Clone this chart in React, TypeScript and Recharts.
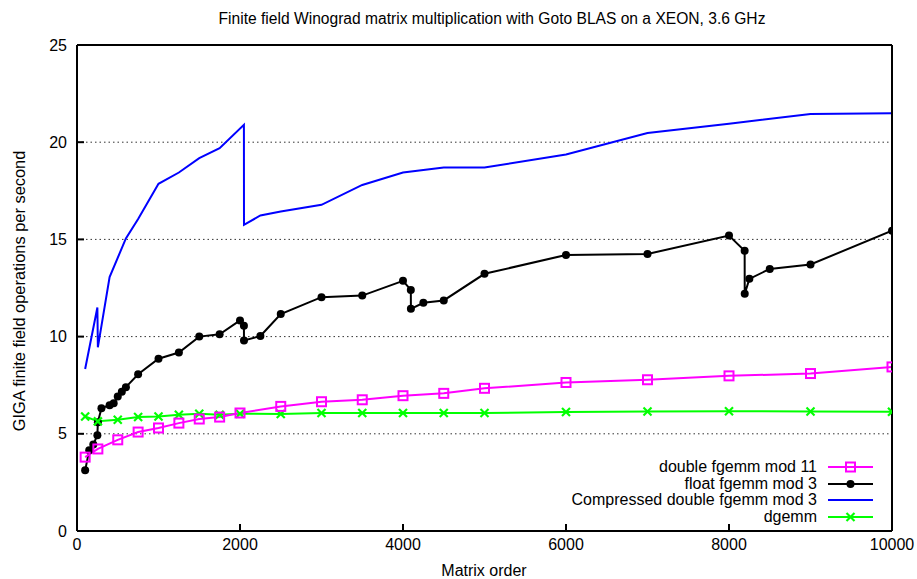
import React from 'react';
import {
  LineChart,
  Line,
  XAxis,
  YAxis,
  CartesianGrid,
} from 'recharts';

/* ------------------------------------------------------------------ */
/*  Data (GIGA finite field ops per second vs matrix order)            */
/* ------------------------------------------------------------------ */
const doubleMod11 = [
  { x: 100, y: 3.8 },
  { x: 256, y: 4.22 },
  { x: 500, y: 4.69 },
  { x: 750, y: 5.09 },
  { x: 1000, y: 5.3 },
  { x: 1250, y: 5.55 },
  { x: 1500, y: 5.76 },
  { x: 1750, y: 5.86 },
  { x: 2000, y: 6.07 },
  { x: 2500, y: 6.41 },
  { x: 3000, y: 6.65 },
  { x: 3500, y: 6.75 },
  { x: 4000, y: 6.96 },
  { x: 4500, y: 7.08 },
  { x: 5000, y: 7.34 },
  { x: 6000, y: 7.64 },
  { x: 7000, y: 7.78 },
  { x: 8000, y: 7.98 },
  { x: 9000, y: 8.1 },
  { x: 10000, y: 8.44 },
];

const floatMod3 = [
  { x: 100, y: 3.12 },
  { x: 150, y: 4.15 },
  { x: 200, y: 4.45 },
  { x: 250, y: 4.92 },
  { x: 256, y: 5.6 },
  { x: 300, y: 6.32 },
  { x: 400, y: 6.47 },
  { x: 450, y: 6.57 },
  { x: 500, y: 6.92 },
  { x: 550, y: 7.16 },
  { x: 600, y: 7.4 },
  { x: 750, y: 8.06 },
  { x: 1000, y: 8.86 },
  { x: 1250, y: 9.18 },
  { x: 1500, y: 10.0 },
  { x: 1750, y: 10.12 },
  { x: 2000, y: 10.83 },
  { x: 2048, y: 10.56 },
  { x: 2049, y: 9.8 },
  { x: 2250, y: 10.03 },
  { x: 2500, y: 11.16 },
  { x: 3000, y: 12.03 },
  { x: 3500, y: 12.11 },
  { x: 4000, y: 12.87 },
  { x: 4096, y: 12.4 },
  { x: 4097, y: 11.43 },
  { x: 4250, y: 11.74 },
  { x: 4500, y: 11.86 },
  { x: 5000, y: 13.23 },
  { x: 6000, y: 14.2 },
  { x: 7000, y: 14.25 },
  { x: 8000, y: 15.2 },
  { x: 8192, y: 14.41 },
  { x: 8193, y: 12.2 },
  { x: 8250, y: 12.97 },
  { x: 8500, y: 13.48 },
  { x: 9000, y: 13.71 },
  { x: 10000, y: 15.45 },
];

const compressedMod3 = [
  { x: 100, y: 8.33 },
  { x: 250, y: 11.5 },
  { x: 256, y: 9.45 },
  { x: 400, y: 13.06 },
  { x: 600, y: 15.05 },
  { x: 750, y: 16.05 },
  { x: 1000, y: 17.86 },
  { x: 1250, y: 18.44 },
  { x: 1500, y: 19.18 },
  { x: 1750, y: 19.69 },
  { x: 2048, y: 20.89 },
  { x: 2049, y: 15.75 },
  { x: 2250, y: 16.23 },
  { x: 2500, y: 16.43 },
  { x: 3000, y: 16.78 },
  { x: 3500, y: 17.8 },
  { x: 4000, y: 18.44 },
  { x: 4500, y: 18.7 },
  { x: 5000, y: 18.7 },
  { x: 6000, y: 19.37 },
  { x: 7000, y: 20.47 },
  { x: 8000, y: 20.95 },
  { x: 9000, y: 21.45 },
  { x: 10000, y: 21.49 },
];

const dgemm = [
  { x: 100, y: 5.89 },
  { x: 256, y: 5.64 },
  { x: 500, y: 5.72 },
  { x: 750, y: 5.86 },
  { x: 1000, y: 5.89 },
  { x: 1250, y: 5.98 },
  { x: 1500, y: 6.03 },
  { x: 1750, y: 5.98 },
  { x: 2000, y: 6.03 },
  { x: 2500, y: 6.02 },
  { x: 3000, y: 6.07 },
  { x: 3500, y: 6.07 },
  { x: 4000, y: 6.07 },
  { x: 4500, y: 6.07 },
  { x: 5000, y: 6.07 },
  { x: 6000, y: 6.12 },
  { x: 7000, y: 6.15 },
  { x: 8000, y: 6.16 },
  { x: 9000, y: 6.15 },
  { x: 10000, y: 6.13 },
];

const X_TICKS = [0, 2000, 4000, 6000, 8000, 10000];
const Y_TICKS = [0, 5, 10, 15, 20, 25];

const SERIES = [
  { name: 'double fgemm mod 11', color: '#ff00ff', marker: 'square' },
  { name: 'float fgemm mod 3', color: '#000000', marker: 'circle' },
  { name: 'Compressed double fgemm mod 3', color: '#0000ff', marker: 'none' },
  { name: 'dgemm', color: '#00ff00', marker: 'cross' },
];

const FONT = '"Liberation Sans", Arial, Helvetica, sans-serif';

/* ------------------------------------------------------------------ */
/*  Markers                                                            */
/* ------------------------------------------------------------------ */
function SquareDot(props: any) {
  const { cx, cy } = props;
  if (cx == null || cy == null) return <g />;
  return (
    <rect x={cx - 4.5} y={cy - 4.5} width={9} height={9} fill="none" stroke="#ff00ff" strokeWidth={2} />
  );
}

function CircleDot(props: any) {
  const { cx, cy } = props;
  if (cx == null || cy == null) return <g />;
  return <circle cx={cx} cy={cy} r={4} fill="#000" />;
}

function CrossDot(props: any) {
  const { cx, cy } = props;
  if (cx == null || cy == null) return <g />;
  return (
    <g stroke="#00ff00" strokeWidth={2.2}>
      <line x1={cx - 4} y1={cy - 4} x2={cx + 4} y2={cy + 4} />
      <line x1={cx - 4} y1={cy + 4} x2={cx + 4} y2={cy - 4} />
    </g>
  );
}

function LegendMarker({ kind, color }: { kind: string; color: string }) {
  if (kind === 'square') return <rect x={18} y={3.5} width={9} height={9} fill="none" stroke={color} strokeWidth={2} />;
  if (kind === 'circle') return <circle cx={22.5} cy={8} r={4} fill={color} />;
  if (kind === 'cross')
    return (
      <g stroke={color} strokeWidth={2.2}>
        <line x1={18.5} y1={4} x2={26.5} y2={12} />
        <line x1={18.5} y1={12} x2={26.5} y2={4} />
      </g>
    );
  return null;
}

function KeyBox() {
  return (
    <div style={{ position: 'absolute', right: 44, top: 459, fontFamily: FONT, fontSize: 16, color: '#000' }}>
      {SERIES.map((s) => (
        <div key={s.name} style={{ display: 'flex', alignItems: 'center', justifyContent: 'flex-end', height: 16.5 }}>
          <span style={{ whiteSpace: 'nowrap', lineHeight: '16px' }}>{s.name}</span>
          <svg width={45} height={16} style={{ marginLeft: 11 }}>
            <line x1={0} y1={8} x2={45} y2={8} stroke={s.color} strokeWidth={2} />
            <LegendMarker kind={s.marker} color={s.color} />
          </svg>
        </div>
      ))}
    </div>
  );
}

/* ------------------------------------------------------------------ */
/*  Main                                                               */
/* ------------------------------------------------------------------ */
export default function App() {
  const tickStyle = { fill: '#000', fontSize: 16, fontFamily: FONT };
  const border = { stroke: '#000', strokeWidth: 2 };

  return (
    <div style={{ position: 'absolute', left: 0, top: 0, width: 917, height: 579, background: '#fff', fontFamily: FONT }}>
      <LineChart
        width={917}
        height={579}
        margin={{ top: 44, right: 24, bottom: 18, left: 37 }}
      >
        <CartesianGrid
          xAxisId="bottom"
          yAxisId="left"
          vertical={false}
          stroke="#333"
          strokeDasharray="1.5 3"
          strokeWidth={1}
        />
        <XAxis
          xAxisId="bottom"
          type="number"
          dataKey="x"
          domain={[0, 10000]}
          ticks={X_TICKS}
          height={30}
          tick={tickStyle}
          tickSize={-7}
          tickMargin={15}
          tickLine={border}
          axisLine={border}
          allowDataOverflow
        />
        <XAxis
          xAxisId="top"
          orientation="top"
          type="number"
          dataKey="x"
          domain={[0, 10000]}
          ticks={X_TICKS}
          height={1}
          tick={() => <g />}
          tickSize={-7}
          tickLine={border}
          axisLine={border}
        />
        <YAxis
          yAxisId="left"
          type="number"
          domain={[0, 25]}
          ticks={Y_TICKS}
          width={40}
          tick={tickStyle}
          tickSize={-7}
          tickMargin={17}
          tickLine={border}
          axisLine={border}
        />
        <YAxis
          yAxisId="right"
          orientation="right"
          type="number"
          domain={[0, 25]}
          ticks={Y_TICKS}
          width={1}
          tick={() => <g />}
          tickSize={-7}
          tickLine={border}
          axisLine={border}
        />
        <Line
          xAxisId="bottom"
          yAxisId="left"
          data={compressedMod3}
          dataKey="y"
          name="Compressed double fgemm mod 3"
          stroke="#0000ff"
          strokeWidth={2}
          dot={false}
          isAnimationActive={false}
        />
        <Line
          xAxisId="bottom"
          yAxisId="left"
          data={floatMod3}
          dataKey="y"
          name="float fgemm mod 3"
          stroke="#000"
          strokeWidth={2}
          dot={<CircleDot />}
          isAnimationActive={false}
        />
        <Line
          xAxisId="bottom"
          yAxisId="left"
          data={dgemm}
          dataKey="y"
          name="dgemm"
          stroke="#00ff00"
          strokeWidth={2}
          dot={<CrossDot />}
          isAnimationActive={false}
        />
        <Line
          xAxisId="bottom"
          yAxisId="left"
          data={doubleMod11}
          dataKey="y"
          name="double fgemm mod 11"
          stroke="#ff00ff"
          strokeWidth={2}
          dot={<SquareDot />}
          isAnimationActive={false}
        />
      </LineChart>

      <KeyBox />

      {/* title + axis labels */}
      <svg width={917} height={579} style={{ position: 'absolute', left: 0, top: 0, pointerEvents: 'none' }}>
        <text x={492} y={23.5} textAnchor="middle" fontSize={15.6} fontFamily={FONT} fill="#000">
          Finite field Winograd matrix multiplication with Goto BLAS on a XEON, 3.6 GHz
        </text>
        <text x={484} y={576} textAnchor="middle" fontSize={16} fontFamily={FONT} fill="#000">
          Matrix order
        </text>
        <text
          x={0}
          y={0}
          textAnchor="middle"
          fontSize={16.4}
          fontFamily={FONT}
          fill="#000"
          transform="translate(25 291) rotate(-90)"
        >
          GIGA finite field operations per second
        </text>
      </svg>
    </div>
  );
}
